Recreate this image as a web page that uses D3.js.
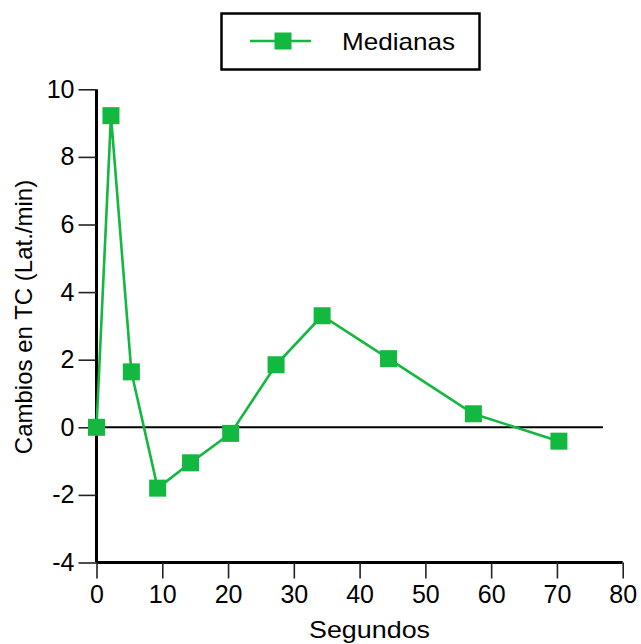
<!DOCTYPE html>
<html lang="es">
<head>
  <meta charset="UTF-8">
  <title>Medianas</title>
  <style>
    body { margin: 0; background: #fff; }
    text { font-family: "Liberation Sans", Arial, sans-serif; fill: #000; }
  </style>
</head>
<body>
  <script src="https://cdnjs.cloudflare.com/ajax/libs/d3/7.8.5/d3.min.js"></script>
  <script>
    // datos
    let segundos = [0, 2.2, 5.3, 9.3, 14.3, 20.4, 27.3, 34.3, 44.4, 57.3, 70.3]
    let medianas = [0, 9.22, 1.64, -1.8, -1.05, -0.18, 1.85, 3.3, 2.03, 0.4, -0.41]
    let xTicks = [0, 10, 20, 30, 40, 50, 60, 70, 80]
    let yTicks = [-4, -2, 0, 2, 4, 6, 8, 10]
    let zeroLineEnd = 77

    let width = 641
    let height = 644
    let green = '#12b83f'

    let svg = d3.select('body')
      .append('svg')
      .attr('width', width)
      .attr('height', height)

    let xScale = d3.scaleLinear().domain([0, 80]).range([96.5, 622.7])
    let yScale = d3.scaleLinear().domain([-4, 10]).range([562.5, 89.3])

    // guion normal como en el original
    let fmt = function (d) { return String(d) }

    let xAxis = d3.axisBottom(xScale).tickValues(xTicks).tickFormat(fmt).tickSize(16).tickPadding(6)
    let yAxis = d3.axisLeft(yScale).tickValues(yTicks).tickFormat(fmt).tickSize(18).tickPadding(4)

    let gx = svg.append('g')
      .attr('transform', `translate(0,${yScale(-4)})`)
      .call(xAxis)
    let gy = svg.append('g')
      .attr('transform', `translate(${xScale(0)},0)`)
      .call(yAxis)

    ;[gx, gy].forEach(function (g) {
      g.select('.domain').attr('stroke', '#000').attr('stroke-width', 3)
      g.selectAll('.tick line').attr('stroke', '#222').attr('stroke-width', 1.6)
      g.selectAll('.tick text')
        .attr('fill', '#000')
        .style('font-size', '25px')
        .style('font-family', '"Liberation Sans", Arial, sans-serif')
    })
    gx.select('.domain').attr('d', `M${xScale(0)},0H${xScale(80)}`)
    gy.select('.domain').attr('d', `M0,${yScale(-4)}V${yScale(10)}`)
    gx.selectAll('.tick text').attr('dy', '0.72em')

    // linea del cero
    svg.append('line')
      .attr('x1', xScale(0)).attr('x2', xScale(zeroLineEnd))
      .attr('y1', yScale(0)).attr('y2', yScale(0))
      .attr('stroke', '#000').attr('stroke-width', 2)

    let data = segundos.map(function (s, i) { return { x: s, y: medianas[i] } })

    let line = d3.line()
      .x(function (d) { return xScale(d.x) })
      .y(function (d) { return yScale(d.y) })

    svg.append('path')
      .datum(data)
      .attr('d', line)
      .attr('fill', 'none')
      .attr('stroke', green)
      .attr('stroke-width', 2.6)
      .attr('stroke-linejoin', 'miter')

    let size = 17
    svg.selectAll('.marker')
      .data(data)
      .enter()
      .append('rect')
      .attr('class', 'marker')
      .attr('x', function (d) { return xScale(d.x) - size / 2 })
      .attr('y', function (d) { return yScale(d.y) - size / 2 })
      .attr('width', size)
      .attr('height', size)
      .attr('fill', green)

    // titulos de ejes
    svg.append('text')
      .attr('x', 309)
      .attr('y', 638)
      .attr('textLength', 121)
      .attr('lengthAdjust', 'spacingAndGlyphs')
      .style('font-size', '24px')
      .text('Segundos')

    svg.append('text')
      .attr('transform', 'translate(32,317) rotate(-90)')
      .attr('text-anchor', 'middle')
      .style('font-size', '24px')
      .text('Cambios en TC (Lat./min)')

    // leyenda
    let legend = svg.append('g')
    legend.append('rect')
      .attr('x', 221.5).attr('y', 13.5)
      .attr('width', 258).attr('height', 56)
      .attr('fill', '#fff')
      .attr('stroke', '#000')
      .attr('stroke-width', 2.5)
    legend.append('line')
      .attr('x1', 250).attr('x2', 311)
      .attr('y1', 41).attr('y2', 41)
      .attr('stroke', green).attr('stroke-width', 2.6)
    legend.append('rect')
      .attr('x', 283 - size / 2).attr('y', 41 - size / 2)
      .attr('width', size).attr('height', size)
      .attr('fill', green)
    legend.append('text')
      .attr('x', 342)
      .attr('y', 50)
      .attr('textLength', 113)
      .attr('lengthAdjust', 'spacingAndGlyphs')
      .style('font-size', '24px')
      .text('Medianas')
  </script>
</body>
</html>
